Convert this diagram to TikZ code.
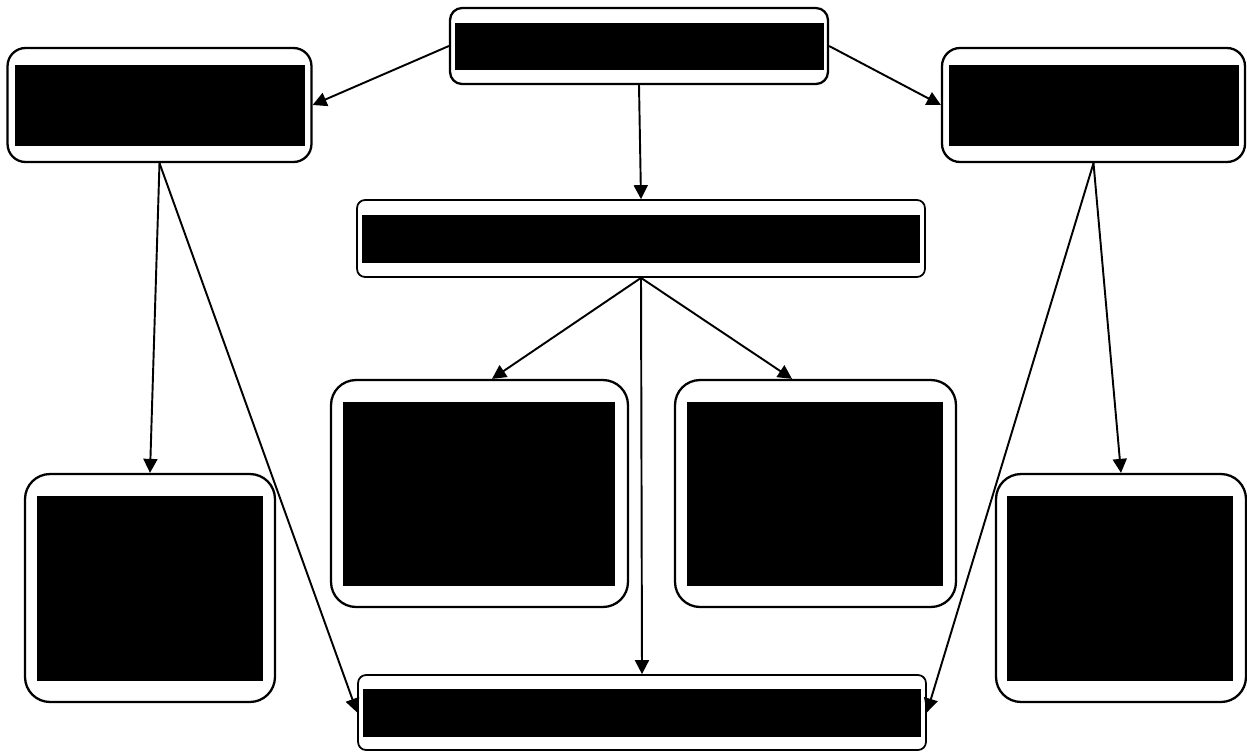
\documentclass[tikz,border=0pt]{standalone}
\usepackage{tikz}
\usetikzlibrary{arrows.meta, positioning}
\tikzset{
    scheme/.style={
        x=0.02cm, y=-0.02cm,
        >={Triangle[length=0.28cm, width=0.28cm]},
        block/.style={draw, rectangle, rounded corners=0.36cm, line width=1.3pt, fill=white, inner sep=0pt},
        top_block/.style={block, rounded corners=0.24cm},
        wide_block/.style={block, rounded corners=0.16cm, line width=1pt},
        big_block/.style={block, rounded corners=0.5cm},
        bar/.style={rectangle, fill=black, inner sep=0pt},
        arrow/.style={->, line width=1.1pt}
    }
}

\begin{document}
\begin{tikzpicture}[scheme]
        \useasboundingbox (0,0) rectangle (1247,751);

        % Top row
        \node[top_block, minimum width=7.56cm, minimum height=1.52cm] (Top) at (639,46) {};
        \node[bar, minimum width=7.38cm, minimum height=0.94cm] (TopBar) at (639.5,46.5) {};
        \node[block, minimum width=6.08cm, minimum height=2.28cm] (Left) at (159.5,105) {};
        \node[bar, minimum width=5.8cm, minimum height=1.62cm] (LeftBar) at (160,105.5) {};
        \node[block, minimum width=6.06cm, minimum height=2.28cm] (Right) at (1093.5,105) {};
        \node[bar, minimum width=5.8cm, minimum height=1.62cm] (RightBar) at (1094,105.5) {};

        % Middle bar
        \node[wide_block, minimum width=11.36cm, minimum height=1.54cm] (Mid) at (641,238.5) {};
        \node[bar, minimum width=11.16cm, minimum height=0.96cm] (MidBar) at (641,239) {};

        % Two inner boxes
        \node[big_block, minimum width=5.94cm, minimum height=4.54cm] (MidLeft) at (479.5,493.5) {};
        \node[bar, minimum width=5.44cm, minimum height=3.68cm] (MidLeftBar) at (479,494) {};
        \node[big_block, minimum width=5.62cm, minimum height=4.54cm] (MidRight) at (815.5,493.5) {};
        \node[bar, minimum width=5.12cm, minimum height=3.68cm] (MidRightBar) at (815,494) {};

        % Outer boxes
        \node[big_block, minimum width=5cm, minimum height=4.56cm] (LowLeft) at (150,588) {};
        \node[bar, minimum width=4.52cm, minimum height=3.7cm] (LowLeftBar) at (150,588.5) {};
        \node[big_block, minimum width=5cm, minimum height=4.56cm] (LowRight) at (1121,588) {};
        \node[bar, minimum width=4.52cm, minimum height=3.7cm] (LowRightBar) at (1120,588.5) {};

        % Bottom bar
        \node[wide_block, minimum width=11.36cm, minimum height=1.5cm] (Bottom) at (642,712.5) {};
        \node[bar, minimum width=11.16cm, minimum height=0.96cm] (BottomBar) at (642,713) {};

        % Connections
        \draw[arrow] (Top.west) -- (Left.east);
        \draw[arrow] (Top.east) -- (Right.west);
        \draw[arrow] (Top.south) -- (Mid.north);
        \draw[arrow] (Mid.south) -- ([xshift=0.25cm]MidLeft.north);
        \draw[arrow] (Mid.south) -- ([xshift=-0.47cm]MidRight.north);
        \draw[arrow] (Mid.south) -- (Bottom.north);
        \draw[arrow] (Left.south) -- (LowLeft.north);
        \draw[arrow] (Left.south) -- (Bottom.west);
        \draw[arrow] (Right.south) -- (LowRight.north);
        \draw[arrow] (Right.south) -- (Bottom.east);

    \end{tikzpicture}
\end{document}
